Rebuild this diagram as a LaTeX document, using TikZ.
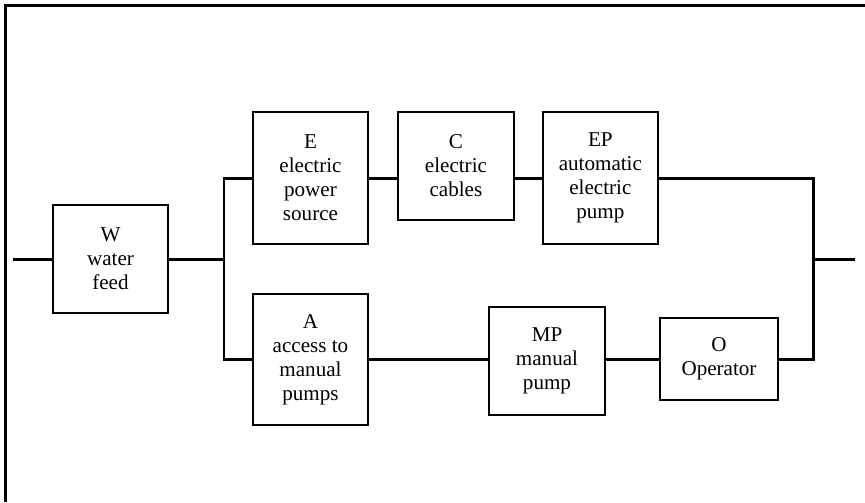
\documentclass[tikz,border=0pt]{standalone}
\usepackage{fontspec}
\setmainfont{Liberation Serif}
\usetikzlibrary{positioning}

\begin{document}
\begin{tikzpicture}[
  blk/.style={draw,line width=1.1pt,minimum width=2.3cm,minimum height=2.16cm,align=center,inner sep=0pt,font=\fontsize{12}{13.6}\selectfont},
  wire/.style={line width=1.7pt},
  frame/.style={line width=1.6pt}
]
\useasboundingbox (0,0) rectangle (17.3,-10.04);
\draw[frame] (0.11,-10.04) -- (0.11,-0.11) -- (17.3,-0.11);
\node[blk] (W) at (2.21,-5.18) {W\\water\\feed};
\node[blk,minimum height=2.64cm] (E) at (6.21,-3.56) {E\\electric\\power\\source};
\node[blk,minimum width=2.32cm,right=0.56cm of E.north east,anchor=north west] (C) {C\\electric\\cables};
\node[blk,minimum height=2.64cm,right=0.54cm of C.north east,anchor=north west] (EP) {EP\\automatic\\electric\\pump};
\node[blk,minimum height=2.62cm] (A) at (6.21,-7.19) {A\\access to\\manual\\pumps};
\node[blk,minimum width=2.32cm] (MP) at (10.94,-7.22) {MP\\manual\\pump};
\node[blk,minimum width=2.36cm,minimum height=1.64cm] (O) at (14.38,-7.18) {O\\Operator};
\coordinate (in) at (0.26,-5.18);
\coordinate (out) at (17.1,-5.18);
\coordinate (sl) at (4.48,-5.18);
\coordinate (sr) at (16.26,-5.18);
\draw[wire] (in) -- (W);
\draw[wire] (W) -- (sl);
\draw[wire] (E.west) -| (sl) |- (A.west);
\draw[wire] (E.east) -- (E.east -| C.west);
\draw[wire] (E.east -| C.east) -- (EP.west);
\draw[wire] (A.east) -- (A.east -| MP.west);
\draw[wire] (A.east -| MP.east) -- (A.east -| O.west);
\draw[wire] (EP.east) -| (sr) |- (O.east);
\draw[wire] (sr) -- (out);
\end{tikzpicture}
\end{document}
